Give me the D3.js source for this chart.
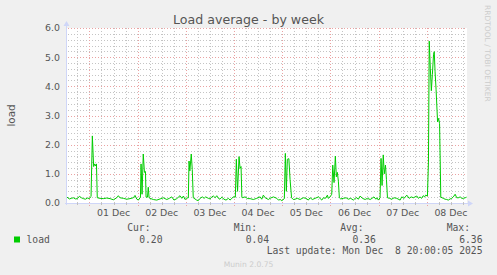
<!DOCTYPE html>
<html>
<head>
<meta charset="utf-8">
<script src="https://cdn.jsdelivr.net/npm/d3@7"></script>
<style>
  body { margin: 0; background: #f0f0f0; }
  svg { display: block; }
</style>
</head>
<body>
<svg id="chart"></svg>
<script>
// load average samples, hours relative to 01 Dec 00:00 (UTC)
const hours = [
  -11.17, -10, -9, -8, -7, -6, -5, -4, -3, -2, -1, 0, 0.5,
  0.8, 1.45, 2.1, 2.6, 3.1, 3.5, 3.9,
  5.3, 6.9, 8.6, 10.3, 11.9, 13.6, 14.4, 15.2, 16.9, 18.6, 20.2, 21.9, 22.7, 23.6, 24.4,
  25.4, 25.7, 26.2, 26.8, 27.4, 27.9, 28.2, 28.9, 29.3, 29.7,
  30.2, 31.8, 33.5, 35.2, 36.8, 38.5, 39.8, 41.0, 42.1, 43.5, 45.1, 46.0, 46.8, 47.6, 48.5,
  49.25, 49.6, 50.0, 50.7, 51.2, 51.7,
  53.4, 54.2, 55.1, 56.2, 57.1, 57.9, 59.2, 60.1, 60.9, 61.7, 62.6, 63.4, 64.2, 65.0, 65.9, 67.0, 68.0, 69.2, 70.0, 70.9, 71.7,
  72.65, 73.15, 73.75, 74.5, 75.0, 75.5, 75.9,
  76.1, 77.5, 78.8, 80, 81.6, 83.3, 85.0, 85.8, 86.6, 87.5, 89.1, 89.9, 91.6, 93.3, 94.1, 95.0, 95.8,
  97.05, 97.55, 98.05, 98.55, 99.3, 99.9, 100.65,
  101.5, 102.4, 103.5, 104.9, 106.5, 107.9, 109.0, 109.9, 111.0, 112.4, 114.0, 114.8, 115.7, 116.5, 117.5, 118.5, 118.9, 119.8,
  120.65, 121.15, 121.8, 122.45, 122.95, 123.45, 123.95, 124.45,
  125.1, 126.4, 127.8, 128.9, 130.1, 131.4, 132.3, 133.1, 133.9, 134.8, 135.9, 137.3, 138.4, 139.8, 140.7, 141.7, 142.6, 143.1, 143.9,
  144.7, 145.2, 145.7, 146.3, 146.8, 147.4, 147.9, 148.4,
  149.4, 150.5, 151.7, 153.0, 154.7, 155.5, 156.7, 158.0, 159.2, 160.2, 161.3, 163.0, 163.8, 164.6, 165.4, 166.2, 166.9, 167.4,
  168.3, 168.8, 169.2, 169.75, 170.25, 170.75, 171.35, 171.7, 172.1, 172.6, 173.35, 173.85, 174.35, 174.95,
  176.2, 177.1, 177.9, 178.7, 179.6, 180.4, 181.2, 182.1, 182.9, 183.7, 184.6, 185.4, 186.2, 187.1, 187.8
];
const load = [
  0.20, 0.14, 0.16, 0.18, 0.14, 0.15, 0.23, 0.18, 0.15, 0.13, 0.17, 0.15, 0.20,
  0.22, 2.30, 1.25, 1.34, 1.27, 1.34, 0.18,
  0.16, 0.15, 0.17, 0.15, 0.11, 0.18, 0.25, 0.18, 0.16, 0.13, 0.15, 0.18, 0.26, 0.13, 0.10,
  0.20, 1.34, 0.30, 1.68, 1.05, 1.08, 0.20, 0.20, 0.54, 0.18,
  0.16, 0.12, 0.10, 0.14, 0.18, 0.12, 0.16, 0.21, 0.10, 0.15, 0.25, 0.16, 0.24, 0.12, 0.17,
  0.18, 1.44, 1.10, 1.68, 1.15, 0.18,
  0.10, 0.08, 0.16, 0.21, 0.16, 0.21, 0.16, 0.14, 0.21, 0.24, 0.18, 0.25, 0.16, 0.13, 0.20, 0.13, 0.10, 0.16, 0.10, 0.16, 0.21,
  0.20, 1.50, 0.40, 1.59, 1.19, 1.25, 0.20,
  0.18, 0.21, 0.15, 0.15, 0.12, 0.16, 0.21, 0.13, 0.27, 0.18, 0.12, 0.16, 0.21, 0.16, 0.10, 0.12, 0.08,
  0.15, 1.70, 0.40, 1.50, 1.52, 0.80, 0.18,
  0.12, 0.13, 0.16, 0.12, 0.18, 0.16, 0.10, 0.18, 0.12, 0.16, 0.21, 0.16, 0.10, 0.18, 0.16, 0.27, 0.16, 0.21,
  0.30, 1.30, 0.70, 1.61, 0.90, 1.05, 0.75, 0.18,
  0.14, 0.16, 0.18, 0.13, 0.16, 0.10, 0.16, 0.18, 0.13, 0.24, 0.16, 0.12, 0.16, 0.12, 0.16, 0.21, 0.13, 0.18, 0.10,
  0.18, 1.53, 0.60, 1.65, 1.00, 1.30, 0.80, 0.18,
  0.16, 0.13, 0.18, 0.16, 0.10, 0.21, 0.16, 0.27, 0.16, 0.21, 0.18, 0.24, 0.16, 0.21, 0.16, 0.25, 0.21, 0.27,
  0.24, 1.40, 5.55, 4.60, 3.85, 4.40, 5.10, 5.19, 4.50, 3.90, 2.78, 2.90, 2.72, 0.20,
  0.16, 0.13, 0.12, 0.10, 0.14, 0.16, 0.21, 0.30, 0.18, 0.18, 0.21, 0.16, 0.16, 0.18, 0.20
];

// axis tick labels and legend text
const yTicks = [0, 1, 2, 3, 4, 5, 6];
const dayLabels = ["01 Dec", "02 Dec", "03 Dec", "04 Dec", "05 Dec", "06 Dec", "07 Dec", "08 Dec"];
const legendHeads = ["Cur:", "Min:", "Avg:", "Max:"];
const legendValues = ["0.20", "0.04", "0.36", "6.36"];
const lastUpdate = "Last update: Mon Dec  8 20:00:05 2025";

const width = 497, height = 275;
const base = Date.UTC(2025, 11, 1);
const toDate = h => new Date(base + h * 3600e3);

let svg = d3.select("#chart")
    .attr("width", width)
    .attr("height", height)
    .style("font-family", "'DejaVu Sans', sans-serif");

svg.append("rect").attr("width", width).attr("height", height).attr("fill", "#f0f0f0");

//plot area
let plotLeft = 67, plotRight = 467, plotTop = 28, plotBottom = 203;

let x = d3.scaleUtc()
    .domain([toDate(-11.17), toDate(188)])
    .range([plotLeft, plotRight]);

let y = d3.scaleLinear()
    .domain([0, 6])
    .range([plotBottom, plotTop]);

svg.append("rect")
    .attr("x", plotLeft).attr("y", plotTop)
    .attr("width", plotRight - plotLeft).attr("height", plotBottom - plotTop)
    .attr("fill", "#ffffff");

const crisp = v => Math.round(v) + 0.5;

//minor grid (every 6 hours / every 0.2)
let grid = svg.append("g").attr("shape-rendering", "crispEdges");
let minorX = x.ticks(d3.utcHour.every(6)).filter(d => d.getUTCHours() !== 0);
let majorX = x.ticks(d3.utcDay.every(1));
let minorColor = "#c4c4c4", majorColor = "#eaa2a2";

grid.selectAll(".vminor")
    .data(minorX)
    .join("line")
    .attr("x1", d => crisp(x(d))).attr("x2", d => crisp(x(d)))
    .attr("y1", plotTop).attr("y2", plotBottom)
    .attr("stroke", minorColor)
    .attr("stroke-dasharray", "1,2");

let minorY = d3.range(1, 31).map(i => i * 0.2).filter((d, i) => (i + 1) % 5 !== 0);
grid.selectAll(".hminor")
    .data(minorY)
    .join("line")
    .attr("x1", plotLeft + 1).attr("x2", plotRight)
    .attr("y1", d => crisp(y(d))).attr("y2", d => crisp(y(d)))
    .attr("stroke", minorColor)
    .attr("stroke-dasharray", "1,2");

//major grid (days / whole numbers)
grid.selectAll(".vmajor")
    .data(majorX)
    .join("line")
    .attr("x1", d => crisp(x(d))).attr("x2", d => crisp(x(d)))
    .attr("y1", plotTop).attr("y2", plotBottom + 3)
    .attr("stroke", majorColor)
    .attr("stroke-dasharray", "1,2");

grid.selectAll(".hmajor")
    .data(yTicks.filter(d => d > 0))
    .join("line")
    .attr("x1", plotLeft + 1).attr("x2", plotRight)
    .attr("y1", d => crisp(y(d))).attr("y2", d => crisp(y(d)))
    .attr("stroke", majorColor)
    .attr("stroke-dasharray", "1,2");

//axes with arrows
let axisColor = "#cfd6f8";
grid.append("line")
    .attr("x1", plotLeft - 0.5).attr("x2", plotLeft - 0.5)
    .attr("y1", plotBottom + 2).attr("y2", plotTop - 3)
    .attr("stroke", axisColor);
grid.append("line")
    .attr("x1", plotLeft - 2).attr("x2", plotRight + 2)
    .attr("y1", plotBottom + 0.5).attr("y2", plotBottom + 0.5)
    .attr("stroke", axisColor);
svg.append("path")
    .attr("d", `M${plotLeft - 3.5},${plotTop - 2} L${plotLeft + 2.5},${plotTop - 2} L${plotLeft - 0.5},${plotTop - 7} Z`)
    .attr("fill", axisColor);
svg.append("path")
    .attr("d", `M${plotRight + 1},${plotBottom - 2.5} L${plotRight + 1},${plotBottom + 3.5} L${plotRight + 6},${plotBottom + 0.5} Z`)
    .attr("fill", axisColor);

//minor ticks on bottom axis
grid.selectAll(".xtick")
    .data(minorX)
    .join("line")
    .attr("x1", d => crisp(x(d))).attr("x2", d => crisp(x(d)))
    .attr("y1", plotBottom).attr("y2", plotBottom + 2)
    .attr("stroke", "#c0c0c0");

//y labels
svg.append("g")
    .selectAll("text")
    .data(yTicks)
    .join("text")
    .attr("x", 60)
    .attr("y", d => y(d))
    .attr("dy", "0.36em")
    .attr("text-anchor", "end")
    .attr("font-size", "9.4px")
    .attr("fill", "#555")
    .text(d => d3.format(".1f")(d));

//x labels at noon
svg.append("g")
    .selectAll("text")
    .data(dayLabels)
    .join("text")
    .attr("x", (d, i) => x(toDate(12 + i * 24)))
    .attr("y", 216)
    .attr("text-anchor", "middle")
    .attr("font-size", "9.4px")
    .attr("fill", "#555")
    .text(d => d);

//load line
let points = hours.map((h, i) => [toDate(h), load[i]]);
let line = d3.line()
    .x(d => x(d[0]))
    .y(d => y(d[1]));

svg.append("path")
    .datum(points)
    .attr("d", line)
    .attr("fill", "none")
    .attr("stroke", "#00cc00")
    .attr("stroke-width", 1);

//title
svg.append("text")
    .attr("x", width / 2)
    .attr("y", 24)
    .attr("text-anchor", "middle")
    .attr("font-size", "12.6px")
    .attr("fill", "#555")
    .text("Load average - by week");

//vertical unit label
svg.append("text")
    .attr("transform", `translate(15,${(plotTop + plotBottom) / 2}) rotate(-90)`)
    .attr("text-anchor", "middle")
    .attr("font-size", "10.4px")
    .attr("fill", "#555")
    .text("load");

//rrdtool watermark
svg.append("text")
    .attr("transform", "translate(485,5) rotate(90)")
    .attr("font-size", "7.5px")
    .attr("fill", "#cccccc")
    .text("RRDTOOL / TOBI OETIKER");

//legend
let mono = "'DejaVu Sans Mono', monospace";
svg.append("rect")
    .attr("x", 14).attr("y", 236.5)
    .attr("width", 6).attr("height", 6)
    .attr("fill", "#00cc00");
svg.append("text")
    .attr("x", 26.5).attr("y", 242.5)
    .attr("font-family", mono).attr("font-size", "9.7px")
    .attr("fill", "#555")
    .text("load");

let headRight = [150.5, 257, 363.5, 470];
let valueRight = [162.5, 269, 375.8, 482.5];

svg.append("g")
    .selectAll("text")
    .data(legendHeads)
    .join("text")
    .attr("x", (d, i) => headRight[i])
    .attr("y", 230.5)
    .attr("text-anchor", "end")
    .attr("font-family", mono).attr("font-size", "9.7px")
    .attr("fill", "#555")
    .text(d => d);

svg.append("g")
    .selectAll("text")
    .data(legendValues)
    .join("text")
    .attr("x", (d, i) => valueRight[i])
    .attr("y", 242.5)
    .attr("text-anchor", "end")
    .attr("font-family", mono).attr("font-size", "9.7px")
    .attr("fill", "#555")
    .text(d => d);

svg.append("text")
    .attr("x", 482.5)
    .attr("y", 254)
    .attr("text-anchor", "end")
    .attr("font-family", mono).attr("font-size", "9.7px")
    .attr("fill", "#555")
    .attr("xml:space", "preserve")
    .style("white-space", "pre")
    .text(lastUpdate);

svg.append("text")
    .attr("x", width / 2)
    .attr("y", 267)
    .attr("text-anchor", "middle")
    .attr("font-size", "7.6px")
    .attr("fill", "#cccccc")
    .text("Munin 2.0.75");
</script>
</body>
</html>
